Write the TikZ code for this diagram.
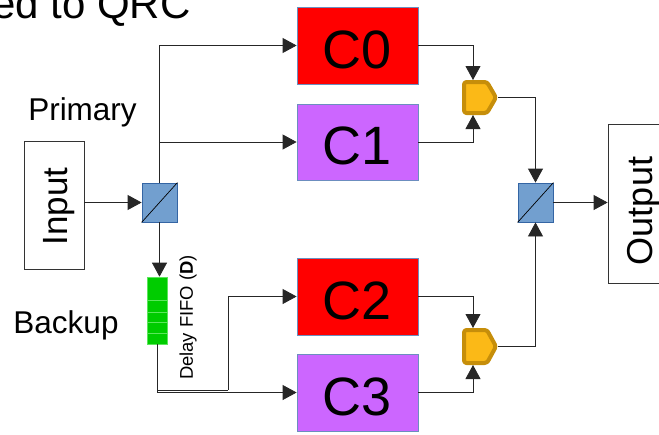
\documentclass[tikz,border=0pt]{standalone}
\usepackage{fontspec}
\setmainfont{Liberation Sans}
\usetikzlibrary{arrows.meta}
\definecolor{cred}{HTML}{FF0000}
\definecolor{cpurple}{HTML}{CC66FF}
\definecolor{cborder}{HTML}{6C8EBF}
\definecolor{splitfill}{HTML}{729FCF}
\definecolor{splitdraw}{HTML}{3465A4}
\definecolor{fifogreen}{HTML}{00CC00}
\definecolor{fifoline}{HTML}{5CE65C}
\definecolor{cmpfill}{HTML}{FBB917}
\definecolor{cmpdraw}{HTML}{C68E0A}
\begin{document}
\begin{tikzpicture}[x=1pt,y=-1pt,
 conn/.style={draw=black!85, line width=0.8pt},
 arr/.style={conn, -{Triangle[length=14pt,width=15pt]}},
 cbox/.style={draw=cborder, line width=0.8pt, minimum width=121pt, minimum height=77pt, inner sep=0pt, font=\fontsize{54}{54}\selectfont, text height=45pt, text depth=0pt},
 splitter/.style={draw=splitdraw, fill=splitfill, minimum width=35pt, minimum height=39pt, inner sep=0pt, line width=0.8pt},
 plain/.style={draw=black!80, line width=0.8pt, inner sep=0pt},
 lbl/.style={font=\fontsize{31.5}{31.5}\selectfont, inner sep=0pt},
 cmp/.style={draw=cmpdraw, fill=cmpfill, line width=4pt, rounded corners=2.5pt, line join=round}
]
\useasboundingbox (0,0) rectangle (659,434);

% title (cut off at the left edge)
\node[anchor=base west, inner sep=0pt, font=\fontsize{42}{42}\selectfont] (title) at (-8,18) {ed to QRC};

% compute boxes
\node[cbox, fill=cred, minimum height=77pt] (c0) at (357.5,45.5) {C0};
\node[cbox, fill=cpurple, minimum height=76pt] (c1) at (357.5,142) {C1};
\node[cbox, fill=cred, minimum height=77pt] (c2) at (357.5,296.5) {C2};
\node[cbox, fill=cpurple, minimum height=77pt] (c3) at (357.5,392.5) {C3};

% input / output
\node[plain, minimum width=60pt, minimum height=128pt] (input) at (54,205) {};
\node[rotate=90, inner sep=0pt, font=\fontsize{35}{35}\selectfont] (inputtxt) at (59.5,206.5) {Input};
\node[plain, minimum width=60pt, minimum height=159pt] (output) at (638,203.5) {};
\node[rotate=90, inner sep=0pt, font=\fontsize{36}{36}\selectfont] (outputtxt) at (643.5,211) {Output};

% splitters
\node[splitter] (splitL) at (159.5,202.5) {};
\draw[black, line width=0.7pt] (splitL.south west) -- (splitL.north east);
\node[splitter] (splitR) at (535.5,202.5) {};
\draw[black, line width=0.7pt] (splitR.south west) -- (splitR.north east);

% delay FIFO
\node[draw=fifoline, fill=fifogreen, minimum width=20pt, minimum height=67pt, inner sep=0pt, line width=0.6pt] (fifo) at (157,310.5) {};
\foreach \yy in {300,312,322,333} \draw[fifoline, line width=0.6pt] (147,\yy) -- (167,\yy);
\node[rotate=90, inner sep=0pt, font=\fontsize{18.4}{18.4}\selectfont] (fifolbl) at (188,317.5) {Delay FIFO (\textbf{D})};

% labels
\node[lbl, anchor=base] (primary) at (82.5,120) {Primary};
\node[lbl, anchor=base] (backup) at (66,333) {Backup};

% comparators
\draw[cmp] (464,82) -- (487,82) -- (496,97.5) -- (487,113) -- (464,113) -- cycle;
\coordinate (cAin1) at (473,80);
\coordinate (cAin2) at (473,115);
\coordinate (cAout) at (498,97.5);
\draw[cmp] (464,330) -- (487,330) -- (496,346.5) -- (487,363) -- (464,363) -- cycle;
\coordinate (cBin1) at (473,328);
\coordinate (cBin2) at (473,365);
\coordinate (cBout) at (498,346.5);

% connectors
\draw[arr] (input.east |- splitL.west) -- (splitL.west);
\draw[arr] (splitL.north) |- (c0.west);
\draw[arr] (splitL.north |- c1.west) -- (c1.west);
\draw[arr] (splitL.south) -- (splitL.south |- fifo.north);
\draw[arr] (fifo.south) |- (c3.west);
\coordinate (kink) at (228,390);
\draw[conn] (fifo.south) |- (kink);
\draw[arr] (kink) |- (c2.west);

\draw[arr] (c0.east) -| (cAin1);
\draw[arr] (c1.east) -| (cAin2);
\draw[arr] (c2.east) -| (cBin1);
\draw[arr] (c3.east) -| (cBin2);
\draw[arr] (cAout) -| (splitR.north);
\draw[arr] (cBout) -| (splitR.south);
\draw[arr] (splitR.east) -- (output.west |- splitR.east);
\end{tikzpicture}
\end{document}
